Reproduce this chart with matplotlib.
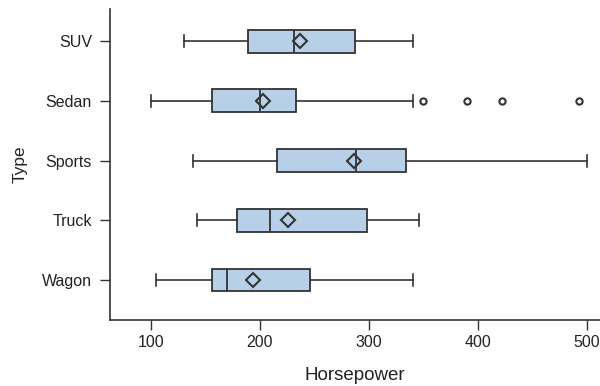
import matplotlib
matplotlib.use("Agg")
import matplotlib.pyplot as plt

categories = ["SUV", "Sedan", "Sports", "Truck", "Wagon"]
whislo = [130, 100, 139, 142, 105]
q1 = [189, 156, 216, 179, 156]
med = [231, 200, 288, 209, 170]
mean = [237, 203, 286, 226, 194]
q3 = [287, 233, 334, 298, 246]
whishi = [340, 340, 500, 346, 340]
fliers = [[], [350, 390, 422, 493], [], [], []]

plt.rcParams['font.family'] = ['Liberation Sans', 'DejaVu Sans']

fig = plt.figure(figsize=(6, 3.86), dpi=100)
ax = fig.add_axes([0.1833, 0.1710, 0.8167, 0.805])

stats = []
for i, c in enumerate(categories):
    stats.append(dict(label=c, whislo=whislo[i], q1=q1[i], med=med[i], mean=mean[i],
                      q3=q3[i], whishi=whishi[i], fliers=fliers[i]))

edge = '#333333'
positions = list(range(len(categories) - 1, -1, -1))
ax.bxp(stats, positions=positions, vert=False, widths=0.385, capwidths=0.2,
       patch_artist=True, showmeans=True,
       boxprops=dict(facecolor='#B8CFE8', edgecolor=edge, linewidth=1.3),
       medianprops=dict(color=edge, linewidth=1.3),
       whiskerprops=dict(color=edge, linewidth=1.2),
       capprops=dict(color=edge, linewidth=1.2),
       meanprops=dict(marker='D', markerfacecolor='none', markeredgecolor=edge,
                      markeredgewidth=1.5, markersize=7),
       flierprops=dict(marker='o', markerfacecolor='none', markeredgecolor=edge,
                       markeredgewidth=1.5, markersize=4.5))

ax.set_xlim(62.4, 512)
ax.set_ylim(-0.67, 4.535)
ax.set_xticks([100, 200, 300, 400, 500])
ax.set_yticks(positions)
ax.set_yticklabels(categories)
for s in ['top', 'right']:
    ax.spines[s].set_visible(False)
for s in ['left', 'bottom']:
    ax.spines[s].set_color(edge)
    ax.spines[s].set_linewidth(1.2)
ax.tick_params(colors=edge, labelcolor='#222222', labelsize=11.5, length=7, width=1)
ax.tick_params(axis='x', pad=4)
ax.tick_params(axis='y', pad=6)
ax.set_xlabel('Horsepower', fontsize=13.5, color='#222222', labelpad=12)
ax.set_ylabel('Type', fontsize=12.5, color='#222222', labelpad=10)

fig.savefig('out.png', dpi=100)
